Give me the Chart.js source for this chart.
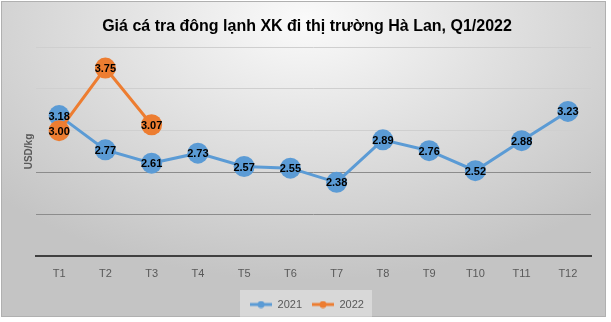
<!DOCTYPE html>
<html>
<head>
<meta charset="utf-8">
<script src="https://cdn.jsdelivr.net/npm/chart.js@4.4.1/dist/chart.umd.min.js"></script>
<style>
  html, body { margin: 0; padding: 0; background: #fff; }
  #wrap { width: 611px; height: 322px; position: relative; }
</style>
</head>
<body>
<div id="wrap"><canvas id="chart" width="611" height="322"></canvas></div>
<script>
// Giá cá tra đông lạnh XK sang Hà Lan (USD/kg)
const months = ['T1', 'T2', 'T3', 'T4', 'T5', 'T6', 'T7', 'T8', 'T9', 'T10', 'T11', 'T12'];
const price2021 = [3.18, 2.77, 2.61, 2.73, 2.57, 2.55, 2.38, 2.89, 2.76, 2.52, 2.88, 3.23];
const price2022 = [3.00, 3.75, 3.07];

const BLUE = '#5B9BD5';
const ORANGE = '#ED7D31';
const FONT = '"Liberation Sans", Arial, sans-serif';

// icon cho legend: đoạn thẳng + chấm tròn
function legendIcon(color) {
    const c = document.createElement('canvas');
    c.width = 22; c.height = 8;
    const g = c.getContext('2d');
    g.strokeStyle = color; g.lineWidth = 3;
    g.beginPath(); g.moveTo(0, 4); g.lineTo(22, 4); g.stroke();
    g.fillStyle = color;
    g.beginPath(); g.arc(11, 4, 3.5, 0, Math.PI * 2); g.fill();
    return c;
}

/* ============ PLUGINS ============ */
const panelBg = {
    id: 'panelBg',
    beforeDraw(chart) {
        const ctx = chart.ctx;
        ctx.save();
        ctx.fillStyle = '#ffffff';
        ctx.fillRect(0, 0, chart.width, chart.height);

        // nền xám dạng radial
        ctx.save();
        ctx.beginPath();
        ctx.rect(1, 1, 605, 316);
        ctx.clip();
        ctx.translate(305, 20);
        ctx.scale(1, 0.62);
        const grd = ctx.createRadialGradient(0, 0, 0, 0, 0, 420);
        grd.addColorStop(0, '#fafafa');
        grd.addColorStop(0.55, '#dcdcdc');
        grd.addColorStop(1, '#c4c4c4');
        ctx.fillStyle = grd;
        ctx.fillRect(-400, -100, 800, 700);
        ctx.restore();

        ctx.strokeStyle = '#b0b0b0';
        ctx.lineWidth = 1;
        ctx.strokeRect(1.5, 1.5, 604, 315);

        // khung legend
        const lg = chart.legend;
        if (lg && lg.legendHitBoxes && lg.legendHitBoxes.length) {
            const boxes = lg.legendHitBoxes;
            const l = Math.min(...boxes.map(b => b.left)) - 10;
            const r = Math.max(...boxes.map(b => b.left + b.width)) + 8;
            const t = boxes[0].top - 9;
            ctx.fillStyle = 'rgba(255,255,255,0.35)';
            ctx.fillRect(l, t, r - l, 27);
        }
        ctx.restore();
    }
};

const valueLabels = {
    id: 'valueLabels',
    afterDatasetsDraw(chart) {
        const ctx = chart.ctx;
        ctx.save();
        ctx.font = 'bold 11px ' + FONT;
        ctx.fillStyle = '#000';
        ctx.textAlign = 'center';
        ctx.textBaseline = 'middle';
        chart.data.datasets.forEach((ds, i) => {
            const meta = chart.getDatasetMeta(i);
            meta.data.forEach((pt, j) => {
                ctx.fillText(ds.data[j].toFixed(2), pt.x, pt.y + 1);
            });
        });
        ctx.restore();
    }
};

/* ============ CHART ============ */
new Chart(document.getElementById('chart'), {
    type: 'line',
    data: {
        labels: months,
        datasets: [
            {
                label: '2021',
                data: price2021,
                borderColor: BLUE,
                backgroundColor: BLUE,
                borderWidth: 3,
                pointRadius: 10.5,
                pointBorderWidth: 0,
                order: 1
            },
            {
                label: '2022',
                data: price2022,
                borderColor: ORANGE,
                backgroundColor: ORANGE,
                borderWidth: 3,
                pointRadius: 10.5,
                pointBorderWidth: 0,
                order: 0
            }
        ]
    },
    options: {
        responsive: false,
        animation: false,
        layout: { padding: { left: 23, right: 20, top: 0, bottom: 2 } },
        plugins: {
            title: {
                display: true,
                text: 'Giá cá tra đông lạnh XK đi thị trường Hà Lan, Q1/2022',
                color: '#000',
                font: { family: FONT, size: 16, weight: 'bold' },
                padding: { top: 17, bottom: 11 }
            },
            legend: {
                position: 'bottom',
                labels: {
                    usePointStyle: true,
                    pointStyleWidth: 22,
                    color: '#595959',
                    font: { family: FONT, size: 11 },
                    padding: 10,
                    generateLabels(chart) {
                        return chart.data.datasets.map((ds, i) => ({
                            text: ds.label,
                            fontColor: '#595959',
                            pointStyle: legendIcon(ds.borderColor),
                            strokeStyle: ds.borderColor,
                            fillStyle: ds.borderColor,
                            lineWidth: 0,
                            hidden: false,
                            datasetIndex: i
                        }));
                    }
                }
            },
            tooltip: { enabled: false }
        },
        scales: {
            x: {
                offset: true,
                grid: { display: false },
                border: { display: true, color: '#404040', width: 2 },
                ticks: {
                    color: '#595959',
                    padding: 4,
                    font: { family: FONT, size: 11 }
                },
                // chừa thêm khoảng trống dưới nhãn trục
                afterFit(scale) { scale.height += 4; }
            },
            y: {
                min: 1.5,
                max: 4.0,
                ticks: { display: false, stepSize: 0.5 },
                border: { display: false },
                grid: {
                    drawTicks: false,
                    lineWidth: 1,
                    color: ctx => ctx.tick && ctx.tick.value <= 2.5 ? '#8c8c8c' : '#cfcfcf'
                },
                title: {
                    display: true,
                    text: 'USD/kg',
                    color: '#595959',
                    font: { family: FONT, size: 10, weight: 'bold' },
                    padding: { top: 0, bottom: 1 }
                }
            }
        }
    },
    plugins: [panelBg, valueLabels]
});
</script>
</body>
</html>
